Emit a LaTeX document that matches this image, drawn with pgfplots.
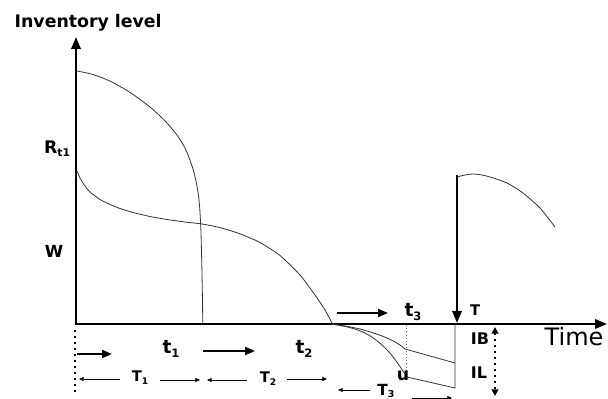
\documentclass[border=0pt]{standalone}
\usepackage{pgfplots}
\pgfplotsset{compat=1.18}
\usepackage{fontspec}
\setmainfont{DejaVu Sans}
\usetikzlibrary{arrows.meta}
\newcommand\sub[1]{\raisebox{-0.35ex}{\scalebox{0.62}{#1}}}
\begin{document}
\begin{tikzpicture}
\begin{axis}[
  width=456pt, height=299.25pt, scale only axis,
  xmin=0, xmax=608, ymin=0, ymax=399, y dir=reverse,
  hide axis, clip=false,
  curve/.style={line width=0.6pt, color=black!80, smooth, tension=0.4, no marks},
  seg/.style={line width=0.6pt, color=black!80, no marks},
  thickarrow/.style={line width=1.5pt, black, no marks, -{Triangle[length=7.5pt,width=6pt]}},
  thinarrow/.style={line width=0.5pt, black, no marks, -{Triangle[length=3.5pt,width=3pt]}},
]
% axes
\addplot[line width=1.7pt, black, no marks, -{Triangle[length=9pt,width=7pt]}] coordinates {(76,324) (76,37)};
\addplot[line width=1.7pt, black, no marks, -{Triangle[length=9pt,width=7pt]}] coordinates {(75,324) (607,324)};
% curve 1
\addplot[curve] coordinates {(77,71) (90,73.7) (103,78.1) (115,83.6) (130,92.4) (142,100.8) (153,109.6) (163,118.9) (170,126.4) (177,135.1) (183,144.4) (188,154.8) (193,169) (196,180.9) (198,191.9) (199,200) (199.85,210) (200.9,230) (201.7,260) (202.3,290) (202.8,323)};
% curve 2
\addplot[curve] coordinates {(77,171) (80,178) (85,186) (90,192) (100,199.5) (110,204.5) (120,208.5) (133,212.5) (150,216.5) (167,219.5) (185,222) (202,224) (220,227.6) (240,233.8) (260,242.5) (280,255.5) (300,275) (315,295) (325,310) (332,323)};
% below axis, upper
\addplot[curve] coordinates {(332,324) (345,326) (360,329) (375,333.5) (387,338) (396,342.5) (402,346.5) (405,349)};
\addplot[seg] coordinates {(405,349) (455,363)};
% below axis, lower
\addplot[curve] coordinates {(332,324) (345,326.5) (355,329) (365,333) (374,338.5) (382,345) (389,352) (395,359.5) (400,366.5) (404,372.5) (407,377)};
\addplot[seg] coordinates {(407,377) (455,388) (455,324)};
% dotted u line
\addplot[line width=0.4pt, black!60, dotted, no marks] coordinates {(406,325) (406,375)};
% T arrow and next cycle
\addplot[line width=1.5pt, black, no marks, -{Triangle[length=9pt,width=7pt]}] coordinates {(457,175) (457,323)};
\addplot[curve] coordinates {(457,177) (465,175) (473,174) (482,175) (490,177) (507,183) (523,193) (540,208) (555,227)};
% dotted verticals
\addplot[line width=1.6pt, black, no marks, dash pattern=on 1.5pt off 3pt] coordinates {(75,330) (75,394)};
\addplot[line width=1.4pt, black, no marks, dash pattern=on 1.5pt off 3pt, {Triangle[length=5pt,width=5pt]}-{Triangle[length=5pt,width=5pt]}] coordinates {(495,327) (495,396)};
% t arrows
\addplot[thickarrow] coordinates {(77,354) (112,354)};
\addplot[thickarrow] coordinates {(203,351) (255,351)};
\addplot[thickarrow] coordinates {(337,313) (388,313)};
% T arrows
\addplot[thinarrow] coordinates {(120,379) (79,379)};
\addplot[thinarrow] coordinates {(160,380) (200,380)};
\addplot[thinarrow] coordinates {(247,380) (207,380)};
\addplot[thinarrow] coordinates {(287,379) (327,379)};
\addplot[thinarrow] coordinates {(370,390) (338,390)};
\addplot[thinarrow] coordinates {(412,398) (452,398)};
% labels
\node[font=\fontsize{13}{15}\selectfont\bfseries, anchor=base west] at (axis cs:10,28) {Inventory level};
\node[font=\fontsize{18}{20}\selectfont] at (axis cs:574,337) {Time};
\node[font=\fontsize{13}{15}\selectfont\bfseries] at (axis cs:57,149) {R\sub{t1}};
\node[font=\fontsize{12.5}{15}\selectfont\bfseries] at (axis cs:54,251) {W};
\node[font=\fontsize{14}{16}\selectfont\bfseries] at (axis cs:171,349) {t\sub{1}};
\node[font=\fontsize{14}{16}\selectfont\bfseries] at (axis cs:304,349) {t\sub{2}};
\node[font=\fontsize{14}{16}\selectfont\bfseries] at (axis cs:413,312) {t\sub{3}};
\node[font=\fontsize{11}{13}\selectfont\bfseries] at (axis cs:140,378) {T\sub{1}};
\node[font=\fontsize{11}{13}\selectfont\bfseries] at (axis cs:268,379) {T\sub{2}};
\node[font=\fontsize{11.5}{13}\selectfont\bfseries] at (axis cs:386,391) {T\sub{3}};
\node[font=\fontsize{11}{13}\selectfont\bfseries] at (axis cs:475,310) {T};
\node[font=\fontsize{12}{14}\selectfont\bfseries] at (axis cs:480,339) {IB};
\node[font=\fontsize{12}{14}\selectfont\bfseries] at (axis cs:479,373) {IL};
\node[font=\fontsize{13}{15}\selectfont\bfseries] at (axis cs:403,376) {u};
\end{axis}
\pgfresetboundingbox
\path[use as bounding box] (current axis.south west) rectangle (current axis.north east);
\end{tikzpicture}
\end{document}
